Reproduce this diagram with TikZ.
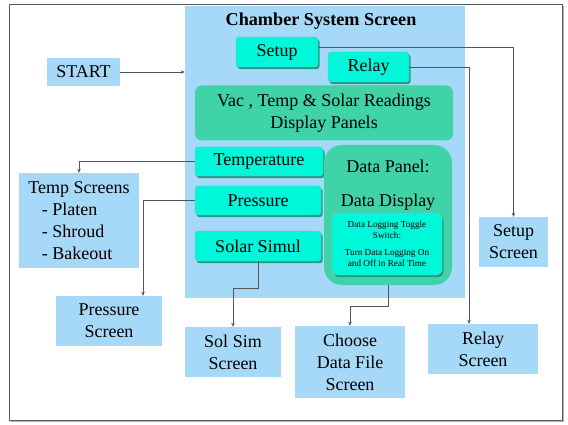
\documentclass[tikz,border=0pt]{standalone}
\usepackage{fontspec}
\setmainfont{Liberation Serif}
\usetikzlibrary{arrows.meta,shadows}

\definecolor{scrblue}{HTML}{A6D8F8}
\definecolor{panelgreen}{HTML}{3FD3A7}
\definecolor{btncyan}{HTML}{00F7DA}
\definecolor{btnshade}{HTML}{1E9E88}
\definecolor{linegray}{HTML}{555555}

\begin{document}
\begin{tikzpicture}[
  x=1pt, y=-1pt,
  every node/.style={font=\fontsize{18}{22}\selectfont, inner sep=0pt},
  screen/.style={fill=scrblue, align=center},
  panel/.style={fill=panelgreen, rounded corners=7pt, align=center},
  button/.style={fill=btncyan, draw=btnshade!60, rounded corners=3pt, align=center,
    drop shadow={shadow xshift=1.6pt, shadow yshift=-2.2pt, fill=btnshade, opacity=1}},
  arr/.style={draw=linegray, line width=0.6pt, -{Stealth[length=4pt,width=3.5pt]}},
]
  \useasboundingbox (0,0) rectangle (568,425);
  \draw[gray!70!black, line width=1pt, fill=white,
    drop shadow={shadow xshift=1.5pt, shadow yshift=-1.5pt, fill=gray, opacity=0.6}]
    (9,5) rectangle (562,420);

  % chamber screen
  \node[screen, minimum width=280pt, minimum height=292pt] (chamber) at (325,152) {};
  \node[font=\bfseries\fontsize{18.2}{22}\selectfont] (title) at (321,21) {Chamber System Screen};
  \node[button, minimum width=82pt, minimum height=30pt] (setup) at (277,52) {Setup};
  \node[button, minimum width=81pt, minimum height=30pt] (relay) at (368.5,67) {Relay};
  \node[panel, minimum width=258pt, minimum height=55pt] (vac) at (324,113)
    {Vac , Temp \& Solar Readings\\Display Panels};
  \node[button, minimum width=128pt, minimum height=29pt] (tempbtn) at (259,161.5) {Temperature};
  \node[button, minimum width=126pt, minimum height=29pt] (pressbtn) at (258,200.5) {Pressure};
  \node[button, minimum width=126pt, minimum height=30pt] (solar) at (258,246) {Solar Simul};
  \node[panel, rounded corners=18pt, minimum width=128pt, minimum height=140pt] (datapanel) at (388,215) {};
  \node[align=center, font=\fontsize{18}{34}\selectfont] (dptitle) at (388,185) {Data Panel:\\Data Display};
  \node[button, rounded corners=6pt, minimum width=110pt, minimum height=62pt,
    font=\fontsize{9.2}{11}\selectfont] (datalog) at (387,244)
    {Data Logging Toggle\\Switch:\\[6pt]Turn Data Logging On\\and Off in Real Time};

  % other screens
  \node[screen, minimum width=73pt, minimum height=28pt] (start) at (83.5,72) {START};
  \node[screen, align=left, minimum width=120pt, minimum height=95pt] (tempscr) at (79,220.5)
    {Temp Screens\\\hspace*{0.75em}- Platen\\\hspace*{0.75em}- Shroud\\\hspace*{0.75em}- Bakeout};
  \node[screen, minimum width=106pt, minimum height=50pt] (pressscr) at (109,321) {Pressure\\Screen};
  \node[screen, minimum width=96pt, minimum height=50pt] (solscr) at (233,352) {Sol Sim\\Screen};
  \node[screen, minimum width=110pt, minimum height=72pt] (datascr) at (350,362) {Choose\\Data File\\Screen};
  \node[screen, minimum width=110pt, minimum height=50pt] (relayscr) at (483,349) {Relay\\Screen};
  \node[screen, minimum width=69pt, minimum height=50pt] (setupscr) at (513.5,242) {Setup\\Screen};

  % connectors
  \draw[arr] (start.east) -- (start.east -| chamber.west);
  \draw[arr] (tempbtn.west) -| (tempscr.north);
  \draw[arr] (pressbtn.west) -| ([xshift=34pt]pressscr.north);
  \draw[arr] (solar.south) -- ++(0,27) -| (solscr.north);
  \draw[arr] (datapanel.south) -- ++(0,21) -| (datascr.north);
  \draw[arr] (relay.east) -| ([xshift=-14pt]relayscr.north);
  \draw[arr] ([yshift=5pt]setup.east) -| (setupscr.north);
\end{tikzpicture}
\end{document}
